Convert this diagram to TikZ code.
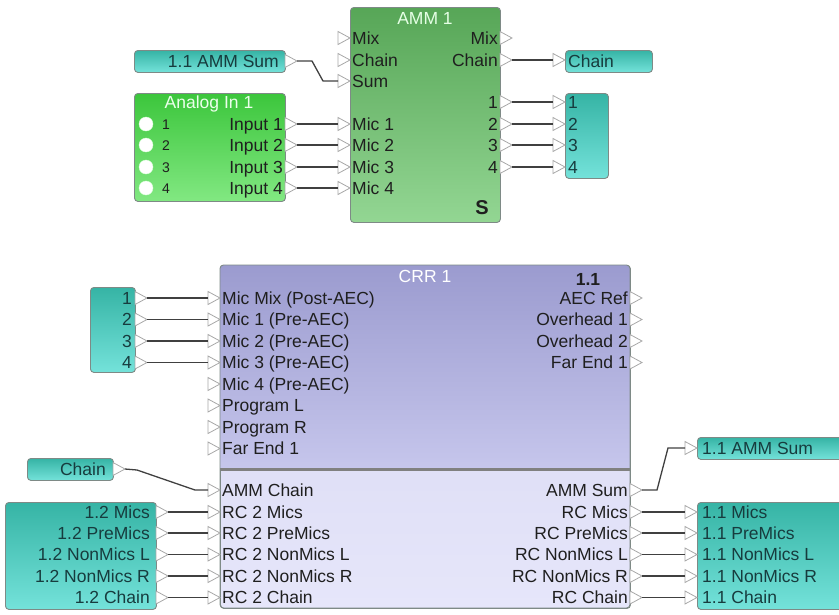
\documentclass[tikz,border=0pt]{standalone}
\usepackage{fontspec}
\setmainfont{Liberation Sans}
\usetikzlibrary{calc}
\definecolor{txt}{HTML}{1F1F1F}
\definecolor{tealtxt}{HTML}{173C3E}
\definecolor{tealA}{HTML}{36B4A5}
\definecolor{tealB}{HTML}{74E2DA}
\definecolor{ammA}{HTML}{57A657}
\definecolor{ammB}{HTML}{93D693}
\definecolor{anA}{HTML}{3CC63C}
\definecolor{anB}{HTML}{82E882}
\definecolor{crrA}{HTML}{9B9BCF}
\definecolor{crrB}{HTML}{C6C6EC}
\definecolor{crrC}{HTML}{D6D6F2}
\definecolor{crrD}{HTML}{E6E6FA}
\definecolor{bord}{HTML}{7E8A86}
\definecolor{portc}{HTML}{A8A8A8}
\definecolor{wirec}{HTML}{404040}
\newcommand\lblfont{\fontsize{17.5}{20}\selectfont}
\tikzset{
 blockbox/.style={draw=bord, line width=0.9pt, rounded corners=3.5pt, inner sep=0pt, anchor=north west},
 tealbox/.style={blockbox, top color=tealA, bottom color=tealB},
 lbl/.style={inner sep=0pt, text height=12.5pt, text depth=0pt, text=txt, font=\lblfont},
 tlbl/.style={lbl, text=tealtxt},
 ttl/.style={lbl, text=white},
 port/.style={draw=portc, fill=white, line width=0.8pt, line join=miter},
 wire/.style={draw=wirec, line width=1.3pt},
}
\newcommand\portIn[3]{\draw[port] (#2-12,#3-6.5) -- (#2,#3) -- (#2-12,#3+6.5) -- cycle; \coordinate (#1) at (#2-12,#3);}
\newcommand\portOut[3]{\draw[port] (#2,#3-6.5) -- (#2+12,#3) -- (#2,#3+6.5) -- cycle; \coordinate (#1) at (#2+12,#3);}
\begin{document}
\begin{tikzpicture}[x=1pt,y=-1pt]
\clip (0,0) rectangle (839,614);
% ---------------- blocks
\node[blockbox, top color=ammA, bottom color=ammB, minimum width=150pt, minimum height=215pt] (amm) at (350,7) {};
\node[blockbox, top color=anA, bottom color=anB, minimum width=151pt, minimum height=108pt] (analog) at (134,93) {};
\node[tealbox, minimum width=151pt, minimum height=22pt] (amsumA) at (134,50) {};
\node[tealbox, minimum width=87pt, minimum height=22pt] (chainA) at (565,50) {};
\node[tealbox, minimum width=43pt, minimum height=85pt] (numsR) at (565,93) {};
\node[tealbox, minimum width=45pt, minimum height=85pt] (numsL) at (90,287) {};
\node[tealbox, minimum width=86pt, minimum height=22pt] (chainB) at (27,458) {};
\node[tealbox, minimum width=151pt, minimum height=107pt] (lowL) at (5,502) {};
\node[tealbox, minimum width=150pt, minimum height=22pt] (amsumB) at (697,437) {};
\node[tealbox, minimum width=150pt, minimum height=107pt] (lowR) at (697,502) {};
% CRR
\node[blockbox, top color=crrC, bottom color=crrD, minimum width=410pt, minimum height=343pt] (crr) at (220,265) {};
\begin{scope}
\clip[rounded corners=3.5pt] (220,265) rectangle (630,608);
\shade[top color=crrA, bottom color=crrB] (220,265) rectangle (630,469);
\end{scope}
\draw[draw=gray, line width=2.6pt] (220,469.5) -- (630,469.5);
\draw[draw=bord, line width=0.9pt, rounded corners=3.5pt] (220,265) rectangle (630,608);
% ---------------- titles
\node[ttl, text=white!90!green] (ammT) at (425,18) {AMM 1};
\node[ttl, text=white!92!green] (anT) at (209,102) {Analog In 1};
\node[ttl] (crrT) at (425,276) {CRR 1};
\node[lbl, font=\lblfont\bfseries] (crrV) at (588,279) {1.1};
\node[lbl, font=\fontsize{20}{22}\selectfont\bfseries, text height=14pt] (ammS) at (482,207) {S};
% ---------------- AMM ports and labels
\foreach \y/\t [count=\i] in {38/Mix,60/Chain,81/Sum,124/Mic 1,145/Mic 2,167/Mic 3,188/Mic 4}{
  \portIn{ammI\i}{350}{\y}
  \node[lbl, anchor=west] (ammIL\i) at (352,\y) {\t};
}
\foreach \y/\t [count=\i] in {38/Mix,60/Chain,102/1,124/2,145/3,167/4}{
  \portOut{ammO\i}{500}{\y}
  \node[lbl, anchor=east] (ammOL\i) at (498,\y) {\t};
}
% Analog In
\foreach \y [count=\i] in {124,145,167,188}{
  \portOut{anO\i}{285}{\y}
  \node[lbl, anchor=east] (anL\i) at (283,\y) {Input \i};
  \node[circle, fill=white, draw=white!85!green, minimum size=14pt, inner sep=0pt] (led\i) at (146,\y) {};
  \node[lbl, anchor=west, font=\fontsize{14}{16}\selectfont, text height=10pt] (anN\i) at (162,\y) {\i};
}
% small teal blocks (AMM area)
\portOut{amsumAo}{285}{61}
\node[tlbl, anchor=east] (amsumAL) at (279,61) {1.1 AMM Sum};
\portIn{chainAi}{565}{60}
\node[tlbl, anchor=west] (chainAL) at (568,61) {Chain};
\foreach \y [count=\i] in {102,124,145,167}{
  \portIn{numsRi\i}{565}{\y}
  \node[tlbl, anchor=west] (numsRL\i) at (568,\y) {\i};
}
% ---------------- CRR ports and labels
\foreach \y/\t [count=\i] in {298/Mic Mix (Post-AEC),319.5/Mic 1 (Pre-AEC),341/Mic 2 (Pre-AEC),362.5/Mic 3 (Pre-AEC),384/Mic 4 (Pre-AEC),405.5/Program L,427/Program R,448.5/Far End 1,490/AMM Chain,512/RC 2 Mics,533/RC 2 PreMics,554.5/RC 2 NonMics L,576/RC 2 NonMics R,597.5/RC 2 Chain}{
  \portIn{crrI\i}{220}{\y}
  \node[lbl, anchor=west] (crrIL\i) at (222,\y) {\t};
}
\foreach \y/\t [count=\i] in {298/AEC Ref,319.5/Overhead 1,341/Overhead 2,362.5/Far End 1,490/AMM Sum,512/RC Mics,533/RC PreMics,554.5/RC NonMics L,576/RC NonMics R,597.5/RC Chain}{
  \portOut{crrO\i}{630}{\y}
  \node[lbl, anchor=east] (crrOL\i) at (628,\y) {\t};
}
% left teal blocks
\foreach \y [count=\i] in {298,319.5,341,362.5}{
  \portOut{numsLo\i}{135}{\y}
  \node[tlbl, anchor=east] (numsLL\i) at (132,\y) {\i};
}
\portOut{chainBo}{113}{469}
\node[tlbl, anchor=east] (chainBL) at (106,469) {Chain};
\foreach \y/\t [count=\i] in {512/1.2 Mics,533/1.2 PreMics,554.5/1.2 NonMics L,576/1.2 NonMics R,597.5/1.2 Chain}{
  \portOut{lowLo\i}{156}{\y}
  \node[tlbl, anchor=east] (lowLL\i) at (150,\y) {\t};
}
% right teal blocks
\portIn{amsumBi}{697}{448}
\node[tlbl, anchor=west] (amsumBL) at (702,448) {1.1 AMM Sum};
\foreach \y/\t [count=\i] in {512/1.1 Mics,533/1.1 PreMics,554.5/1.1 NonMics L,576/1.1 NonMics R,597.5/1.1 Chain}{
  \portIn{lowRi\i}{697}{\y}
  \node[tlbl, anchor=west] (lowRL\i) at (702,\y) {\t};
}
% ---------------- wires
\draw[wire] (amsumAo) -- (312,61) -- (323,81) -- (ammI3);
\foreach \i [evaluate=\i as \j using int(\i+3)] in {1,2,3,4}{
  \draw[wire] (anO\i) -- (ammI\j);
}
\draw[wire] (ammO2) -- (chainAi);
\foreach \i [evaluate=\i as \j using int(\i+2)] in {1,2,3,4}{
  \draw[wire] (ammO\j) -- (numsRi\i);
}
\foreach \i in {1,2,3,4}{
  \draw[wire] (numsLo\i) -- (crrI\i);
}
\draw[wire] (chainBo) -- (137,470) -- (195,490) -- (crrI9);
\foreach \i [evaluate=\i as \j using int(\i+9)] in {1,2,3,4,5}{
  \draw[wire] (lowLo\i) -- (crrI\j);
}
\draw[wire] (crrO5) -- (657,490) -- (668,448) -- (amsumBi);
\foreach \i [evaluate=\i as \j using int(\i+5)] in {1,2,3,4,5}{
  \draw[wire] (crrO\j) -- (lowRi\i);
}
\end{tikzpicture}
\end{document}
